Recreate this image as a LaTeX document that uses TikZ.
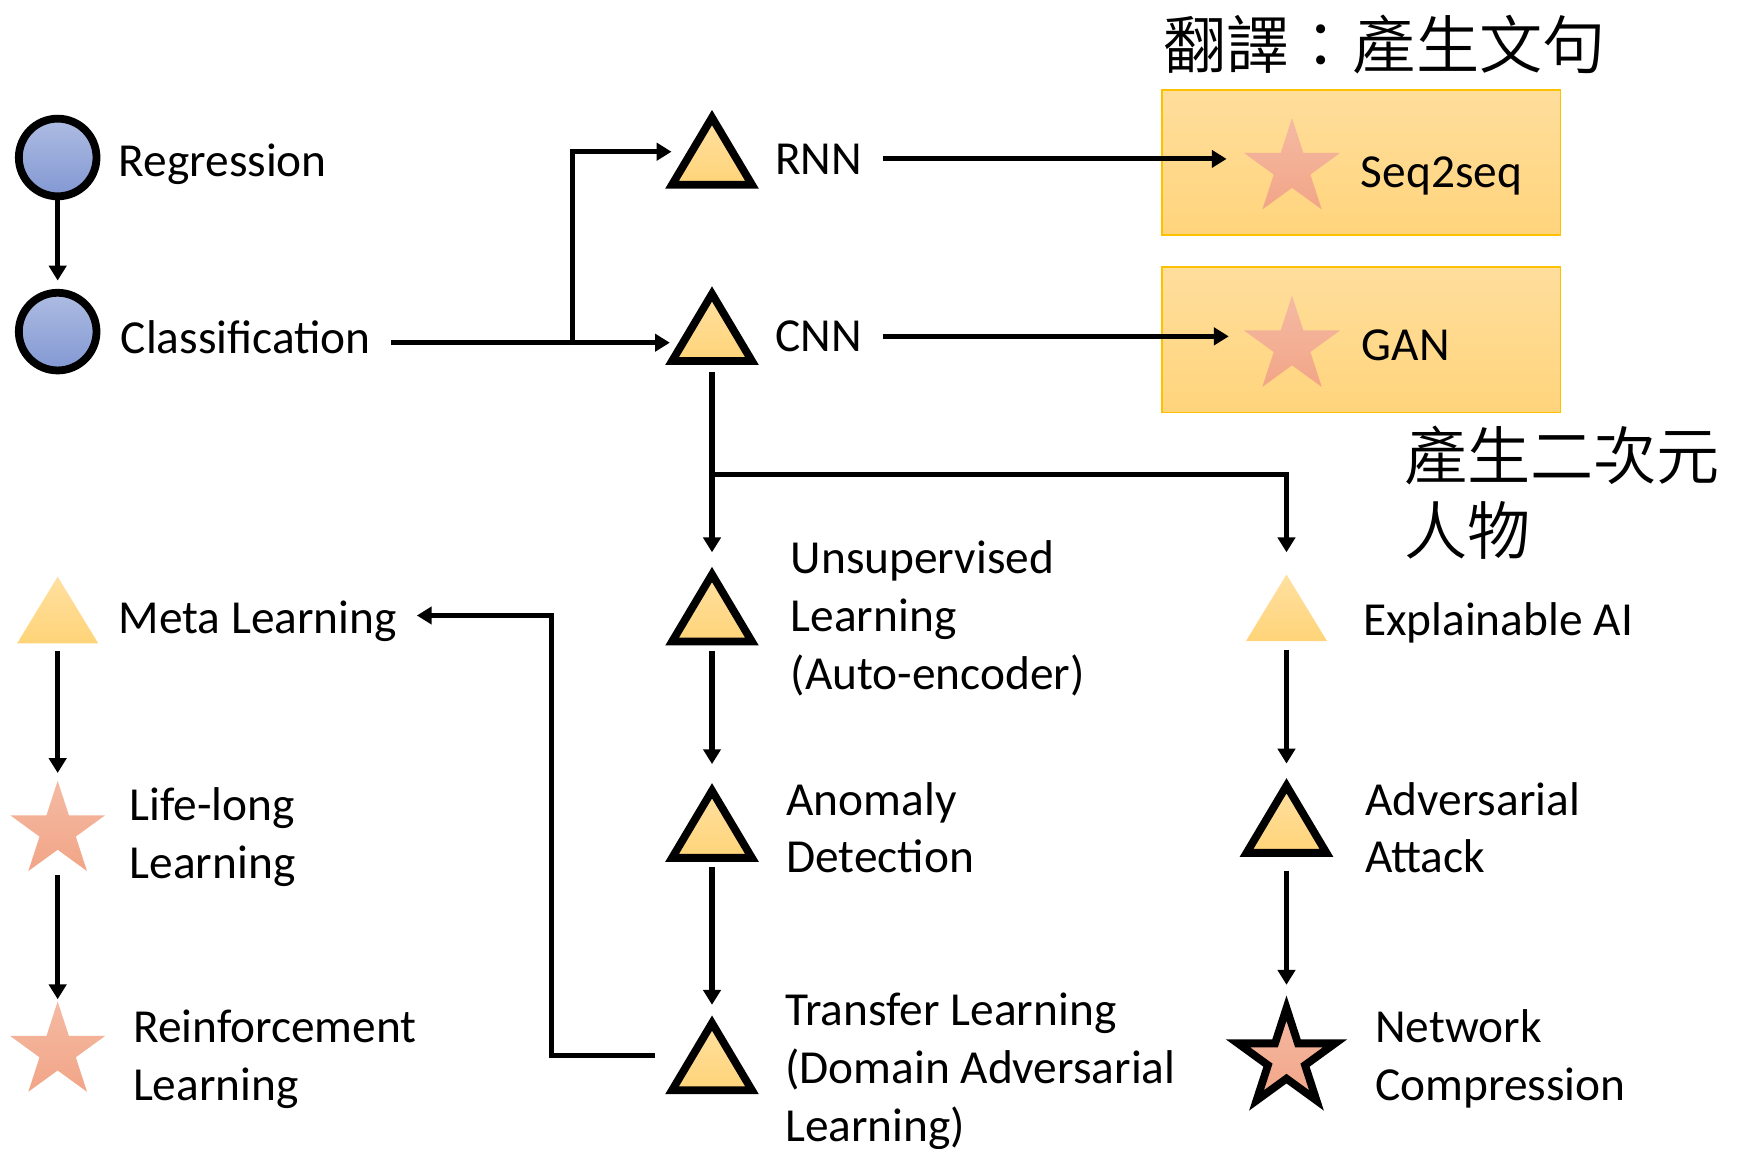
\documentclass[tikz,border=0pt]{standalone}
\usepackage{fontspec}
\setmainfont{Carlito}
\newfontfamily\cjkfont{Noto Sans CJK TC DemiLight}
\usetikzlibrary{arrows.meta,calc}

\definecolor{bluetop}{HTML}{AEBCE2}
\definecolor{bluebot}{HTML}{8298D3}
\definecolor{yeltop}{HTML}{FFE0A0}
\definecolor{yelbot}{HTML}{FFD479}
\definecolor{startop}{HTML}{F4BAA3}
\definecolor{starbot}{HTML}{F2A587}
\definecolor{boxtop}{HTML}{FFDE9C}
\definecolor{boxbot}{HTML}{FFD47C}
\definecolor{boxline}{HTML}{FFC000}

\tikzset{
  conn/.style={line width=1.3pt},
  arr/.style={conn,-{Triangle[length=3.8pt,width=4.4pt]}},
  % multi-line labels are placed by the baseline of their last line
  lbl/.style={anchor=base west, inner sep=0pt, outer sep=0pt, align=left,
    font=\fontsize{12.15pt}{14.8pt}\selectfont},
  zh/.style={anchor=base west, inner sep=0pt, outer sep=0pt, align=left,
    font=\cjkfont\fontsize{16.2pt}{19.35pt}\selectfont},
  bulb/.style={circle, draw=black, line width=2pt, minimum size=0.70cm,
    inner sep=0pt, top color=bluetop, bottom color=bluebot},
  tribox/.style={rectangle, inner sep=0pt, outer sep=0pt,
    minimum width=0.84cm, minimum height=0.70cm},
  flatbox/.style={rectangle, inner sep=0pt, outer sep=0pt,
    minimum width=0.73cm, minimum height=0.60cm},
  starbox/.style={circle, inner sep=0pt, outer sep=0pt, minimum size=#1},
  yfill/.style={top color=yeltop, bottom color=yelbot},
  sfill/.style={top color=startop, bottom color=starbot},
  rim/.style={draw=black, line width=2pt, line join=miter},
  panel/.style={rectangle, draw=boxline, line width=0.45pt,
    top color=boxtop, bottom color=boxbot, inner sep=0pt,
    minimum width=3.59cm, minimum height=1.31cm},
}

% triangle with a black rim, drawn inside a tribox node
\newcommand\rimtri[1]{\path[yfill,rim] ([shift={(0,-29)}]#1.center)
  -- ([shift={(-36,31.5)}]#1.center) -- ([shift={(36,31.5)}]#1.center) -- cycle;}
% triangle without rim, drawn inside a flatbox node
\newcommand\flattri[1]{\path[yfill] ([shift={(0,-30)}]#1.center)
  -- ([shift={(-36.5,30)}]#1.center) -- ([shift={(36.5,30)}]#1.center) -- cycle;}
% five-pointed star: centre node, outer radius, style
\newcommand\starfig[3]{\path[#3] ($(#1)+(270:#2)$)
  \foreach \k in {1,...,5}{ -- ($(#1)+({234+72*\k}:{0.382*#2})$) -- ($(#1)+({270+72*\k}:#2)$)} -- cycle;}

\begin{document}
\begin{tikzpicture}[x=0.01cm,y=-0.01cm]
\fill[white] (0,0) rectangle (1568,1036);
\useasboundingbox (0,0) rectangle (1568,1036);

% panels of the generative models
\node[panel] (seqbox) at (1227.5,146.5) {};
\node[panel] (ganbox) at (1227.5,306.5) {};

% shapes
\node[bulb] (reg) at (52,142) {};
\node[bulb] (cla) at (52,299) {};

\node[tribox] (rnn)   at (642,135) {};
\node[tribox] (cnn)   at (642,294) {};
\node[tribox] (unsup) at (642,547) {};
\node[tribox] (anom)  at (642,742) {};
\node[tribox] (tran)  at (642,951.5) {};
\node[tribox] (adv)   at (1160,737.5) {};
\foreach \n in {rnn,cnn,unsup,anom,tran,adv} {\rimtri{\n}}

\node[flatbox] (meta) at (52,550) {};
\node[flatbox] (xai)  at (1160,548) {};
\flattri{meta}
\flattri{xai}

\node[starbox=0.91cm] (seqstar) at (1165,152) {};
\node[starbox=0.91cm] (ganstar) at (1165,312) {};
\node[starbox=0.90cm] (lifes)   at (52,749) {};
\node[starbox=0.90cm] (reins)   at (52,948) {};
\node[starbox=1.14cm] (nets)    at (1160,955) {};
\starfig{seqstar}{45.5}{sfill}
\starfig{ganstar}{45.5}{sfill}
\starfig{lifes}{45}{sfill}
\starfig{reins}{45}{sfill}
\starfig{nets}{46}{sfill,rim}

% labels
\node[lbl] (regt)  at (107,159) {Regression};
\node[lbl] (clat)  at (109,319) {Classification};
\node[lbl] (rnnt)  at (699,157) {RNN};
\node[lbl] (cnnt)  at (699,317) {CNN};
\node[lbl] (seqt)  at (1227,169) {Seq2seq};
\node[lbl] (gant)  at (1228,325) {GAN};
\node[lbl] (metat) at (107,571) {Meta Learning};
\node[lbl] (lifet) at (117,792) {Life-long\\Learning};
\node[lbl] (reint) at (120,992) {Reinforcement\\Learning};
\node[lbl] (unsupt) at (713,621.5) {Unsupervised\\Learning\\(Auto-encoder)};
\node[lbl] (anomt) at (709,787) {Anomaly\\Detection};
\node[lbl] (trant) at (708,1029) {Transfer Learning\\(Domain Adversarial\\Learning)};
\node[lbl] (xait)  at (1229,573) {Explainable AI};
\node[lbl] (advt)  at (1231,787) {Adversarial\\Attack};
\node[lbl] (nett)  at (1240,992) {Network\\Compression};
\node[zh] (zhseq) at (1049,62) {翻譯：產生文句};
\node[zh] (zhgan) at (1266,500) {產生二次元\\人物};

% connectors
\draw[arr, shorten >=0.075cm] (reg) -- (cla);
\coordinate (cnnin) at ([shift={(4,15)}]cnn.west);
\draw[arr, shorten <=0.18cm] (clat.east |- cnnin) -- (cnnin);
\coordinate (fork1) at (516,309);
\draw[arr] (fork1) |- ([shift={(5.5,1.8)}]rnn.west);
\draw[arr, shorten <=0.19cm, shorten >=0.135cm] (rnnt.east) -- (rnnt.east -| seqstar.west);
\draw[arr, shorten <=0.19cm, shorten >=0.115cm] (cnnt.east) -- (cnnt.east -| ganstar.west);
\draw[arr, shorten <=0.06cm, shorten >=0.14cm] (cnn.south) -- (unsup.north);
\coordinate (fork2) at ([yshift=-0.99cm]cnn.south);
\draw[arr, shorten >=0.20cm] (fork2) -| (xai.north);
\draw[arr, shorten <=0.05cm, shorten >=0.18cm] (unsup.south) -- (anom.north);
\draw[arr, shorten <=0.05cm, shorten >=0.105cm] (anom.south) -- (tran.north);
\draw[arr, shorten <=0.09cm, shorten >=0.18cm] (tran.west) -- ++(-103,0) |- ([yshift=0.05cm]metat.east);
\draw[arr, shorten <=0.07cm, shorten >=0.07cm] (meta.south) -- (lifes.north);
\draw[arr, shorten <=0.40cm, shorten >=0.47cm] (lifes.center) -- (reins.center);
\draw[arr, shorten <=0.08cm, shorten >=0.14cm] (xai.south) -- (adv.north);
\draw[arr, shorten <=0.125cm, shorten >=0.10cm] (adv.south) -- (nets.north);
\end{tikzpicture}
\end{document}
